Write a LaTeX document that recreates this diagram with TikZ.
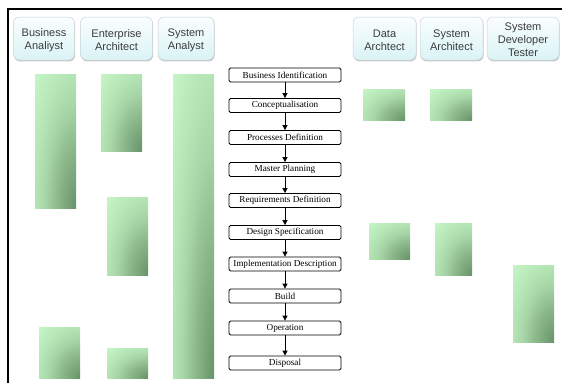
\documentclass[tikz,border=0pt]{standalone}
\usepackage{fontspec}
\setmainfont{Liberation Serif}
\setsansfont{Liberation Sans}
\usetikzlibrary{arrows.meta,shadows}
\definecolor{gl}{RGB}{198,246,198}
\definecolor{gA}{RGB}{182,230,182}
\definecolor{gB}{RGB}{166,212,166}
\definecolor{gC}{RGB}{140,184,140}
\definecolor{gd}{RGB}{104,146,104}
\definecolor{htop}{RGB}{250,254,254}
\definecolor{hbot}{RGB}{218,243,246}
\definecolor{htext}{RGB}{60,60,60}
\definecolor{hline}{RGB}{200,210,212}
\pgfdeclareradialshading{gbarshade}{\pgfpoint{0bp}{0bp}}{%
  color(0bp)=(gd); color(8bp)=(gC); color(13bp)=(gB);
  color(18bp)=(gA); color(25bp)=(gl); color(50bp)=(gl)}
\newcommand\greenbar[4]{%
  \begin{scope}
    \clip (#1,#2) rectangle (#3,#4);
    \shade[shading=gbarshade] (#3,#4) ellipse ({1.42*(#3-#1)} and {1.42*(#4-#2)});
  \end{scope}}
\begin{document}
\begin{tikzpicture}[x=1pt,y=-1pt,
  hdr/.style={draw=hline, line width=0.5pt, rounded corners=6pt,
    top color=htop, bottom color=hbot, minimum height=43pt,
    drop shadow={shadow xshift=0.6pt, shadow yshift=-1.4pt, opacity=0.22, fill=black}},
  htxt/.style={text=htext, align=center, inner sep=0pt, yshift=-1.5pt,
    font=\sffamily\fontsize{11}{12.8}\selectfont},
  proc/.style={draw=black, line width=0.8pt, rounded corners=1.5pt, fill=white,
    minimum width=112pt, minimum height=14pt, inner sep=0pt,
    font=\fontsize{9.2}{10}\selectfont},
  arr/.style={-{Triangle[width=5pt,length=5pt]}, line width=0.8pt, black}]
\useasboundingbox (0,0) rectangle (562,383);
\fill[white] (0,0) rectangle (562,383);
% frame
\draw[line width=2.5pt] (8,383) -- (8,9) -- (562,9);
% headers
\node[hdr, minimum width=61pt, label={[htxt]center:Business\\Analiyst}] (h1) at (44,38.5) {};
\node[hdr, minimum width=72pt, label={[htxt]center:Enterprise\\Architect}] (h2) at (116.5,38.5) {};
\node[hdr, minimum width=56pt, label={[htxt]center:System\\Analyst}] (h3) at (186,38.5) {};
\node[hdr, minimum width=63pt, label={[htxt]center:Data\\Archtect}] (h4) at (384.5,38.5) {};
\node[hdr, minimum width=63pt, label={[htxt]center:System\\Architect}] (h5) at (451.5,38.5) {};
\node[hdr, minimum width=72pt, label={[htxt]center:System\\Developer\\Tester}] (h6) at (523,38.5) {};
% bars
\greenbar{35}{74}{76}{208}
\greenbar{39}{327}{80}{378}
\greenbar{101}{74}{142}{151}
\greenbar{107}{197}{148}{275}
\greenbar{107}{348}{148}{378}
\greenbar{173}{74}{214}{378}
\greenbar{363}{89}{405}{120}
\greenbar{369}{223}{410}{259}
\greenbar{430}{89}{472}{120}
\greenbar{435}{223}{472}{275}
\greenbar{513}{265}{554}{342}
% process chain
\node[proc] (p1) at (285,75) {Business Identification};
\node[proc] (p2) at (285,105.5) {Conceptualisation};
\node[proc] (p3) at (285,137.5) {Processes Definition};
\node[proc] (p4) at (285,169.5) {Master Planning};
\node[proc] (p5) at (285,200.5) {Requirements Definition};
\node[proc] (p6) at (285,232.5) {Design Specification};
\node[proc] (p7) at (285,264) {Implementation Description};
\node[proc] (p8) at (285,296) {Build};
\node[proc] (p9) at (285,328) {Operation};
\node[proc] (p10) at (285,363) {Disposal};
\foreach \a/\b in {p1/p2,p2/p3,p3/p4,p4/p5,p5/p6,p6/p7,p7/p8,p8/p9,p9/p10}
  \draw[arr] (\a) -- (\b);
\end{tikzpicture}
\end{document}
